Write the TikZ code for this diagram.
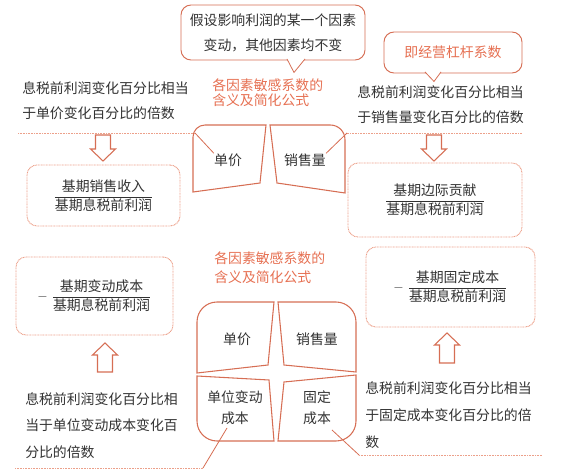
\documentclass[tikz,border=0pt]{standalone}
\usepackage{fontspec}
\setmainfont{Noto Sans CJK SC}
\usepackage{amsmath}
\usetikzlibrary{calc}
\usepackage{xcolor}

\definecolor{lineor}{RGB}{214,110,84}
\definecolor{titleor}{RGB}{230,112,82}
\definecolor{dotor}{RGB}{236,160,138}
\definecolor{ink}{RGB}{50,50,50}

\tikzset{
  note/.style={font=\fontsize{10.4}{18.75}\selectfont, text=ink, align=left, inner sep=0pt},
  title/.style={note, text=titleor},
  bubble/.style={draw=lineor, line width=0.7pt, rounded corners=7.5pt, fill=white, text=ink,
    font=\fontsize{10.4}{18.75}\selectfont, align=center, inner sep=0pt},
  formula/.style={draw=dotor, dash pattern=on 0.7pt off 0.5pt, line width=0.7pt, rounded corners=7.5pt,
    font=\fontsize{10.4}{12}\selectfont, text=ink, inner sep=0pt},
  piece/.style={draw=lineor, line width=0.8pt},
  leader/.style={lineor, line width=0.6pt},
  dotleader/.style={dotor, line width=0.6pt, dash pattern=on 0.6pt off 0.6pt},
  pics/harrow/.style={code={
    \draw[lineor, line width=0.8pt, fill=white] (-7.5,0) -- (7.5,0) -- (7.5,#1-12) -- (12.5,#1-12)
      -- (0,#1) -- (-12.5,#1-12) -- (-7.5,#1-12) -- cycle;}}
}

\begin{document}
\begin{tikzpicture}[x=0.75pt, y=-0.75pt]
\useasboundingbox (0,0) rectangle (569,474);

% callouts
\node[bubble, minimum width=138pt, minimum height=41.25pt] (hint) at (273,32.5) {假设影响利润的某一个因素\\变动，其他因素均不变};
\coordinate (hint tip) at ($(hint.south)+(21,12)$);
\filldraw[leader, fill=white] ($(hint.south)+(14,-1.5)$) -- (hint tip) -- ($(hint.south)+(32,-1.5)$);
\node[bubble, text=titleor, minimum width=103.5pt, minimum height=30.75pt] (dol) at (453,52.5) {即经营杠杆系数};
\coordinate (dol tip) at ($(dol.south)+(-19,8)$);
\filldraw[leader, fill=white] ($(dol.south)+(-28,-1.5)$) -- (dol tip) -- ($(dol.south)+(-12,-1.5)$);

% upper half
\node[title, anchor=west, font=\fontsize{10.4}{11.25}\selectfont] (title top) at (212,92.5) {各因素敏感系数的\\含义及简化公式};
\node[note, anchor=west] (price note) at (22,100.5) {息税前利润变化百分比相当\\于单价变化百分比的倍数};
\node[note, anchor=west] (qty note) at (357,104.5) {息税前利润变化百分比相当\\于销售量变化百分比的倍数};

\draw[piece] (260,183) -- (193,192) [rounded corners=9pt] -- (193,125) [sharp corners] -- (266,125) -- cycle;
\draw[piece] (277,183) -- (270,125) [rounded corners=11pt] -- (345,125) [sharp corners] -- (345,193) -- cycle;
\node[note] (price top) at (228,160) {单价};
\node[note] (qty top) at (305,160) {销售量};

\coordinate (lt end) at (18,133);
\coordinate (lt knee) at (195,133);
\coordinate (rt end) at (522,133);
\coordinate (rt knee) at (347,133);
\draw[dotleader] (lt end) -- (lt knee);
\draw[leader] (lt knee) -- (price top.north west);
\draw[dotleader] (rt end) -- (rt knee);
\draw[leader] (rt knee) -- (qty top.north east);

\pic at (103,135) {harrow=26};
\pic at (434,135) {harrow=26};

\node[formula, minimum width=114.75pt, minimum height=45.75pt] (sales box) at (103.5,195.5)
  {$\dfrac{\mbox{基期销售收入}}{\mbox{基期息税前利润}}$};
\node[formula, minimum width=130.5pt, minimum height=55.5pt] (cm box) at (435,200)
  {$\dfrac{\mbox{基期边际贡献}}{\mbox{基期息税前利润}}$};

% lower half
\node[title, anchor=west, font=\fontsize{10.4}{14.25}\selectfont] (title mid) at (214,267.5) {各因素敏感系数的\\含义及简化公式};
\node[formula, minimum width=117.75pt, minimum height=58.5pt] (vc box) at (94.5,296)
  {$-\;\dfrac{\mbox{基期变动成本}}{\mbox{基期息税前利润}}$};
\node[formula, minimum width=126.75pt, minimum height=60pt] (fc box) at (450.5,287)
  {$-\;\dfrac{\mbox{基期固定成本}}{\mbox{基期息税前利润}}$};

\pic[rotate=180] at (105,372) {harrow=29};
\pic[rotate=180] at (447,363) {harrow=30};

\draw[piece] (268,365) -- (197,373) [rounded corners=15pt] -- (197,302) [sharp corners] -- (274,302) -- cycle;
\draw[piece] (284,365) -- (278,302) [rounded corners=15pt] -- (356,302) [sharp corners] -- (356,372) -- cycle;
\draw[piece] (269,380) -- (197,376) [rounded corners=15pt] -- (197,441) [sharp corners] -- (274,441) -- cycle;
\draw[piece] (284,382) -- (278,441) [rounded corners=15pt] -- (356,441) [sharp corners] -- (356,375) -- cycle;
\node[note] (price bot) at (237,339) {单价};
\node[note] (qty bot) at (317,339) {销售量};
\node[note, align=center, font=\fontsize{10.4}{15.75}\selectfont] (vc bot) at (235,407.5) {单位变动\\成本};
\node[note, align=center, font=\fontsize{10.4}{15.75}\selectfont] (fc bot) at (317,407.5) {固定\\成本};

\node[note, anchor=west, font=\fontsize{10.4}{19.9}\selectfont] (vc note) at (25,425.5)
  {息税前利润变化百分比相\\当于单位变动成本变化百\\分比的倍数};
\node[note, anchor=west, font=\fontsize{10.4}{20.25}\selectfont] (fc note) at (365,415)
  {息税前利润变化百分比相当\\于固定成本变化百分比的倍\\数};

\coordinate (lb lead) at (227,428);
\coordinate (lb knee) at (203,468);
\coordinate (lb end) at (15,468);
\coordinate (rb lead) at (332,430);
\coordinate (rb knee) at (359,455);
\coordinate (rb end) at (542,455);
\draw[leader] (lb lead) -- (lb knee);
\draw[dotleader] (lb knee) -- (lb end);
\draw[leader] (rb lead) -- (rb knee);
\draw[dotleader] (rb knee) -- (rb end);
\end{tikzpicture}
\end{document}
